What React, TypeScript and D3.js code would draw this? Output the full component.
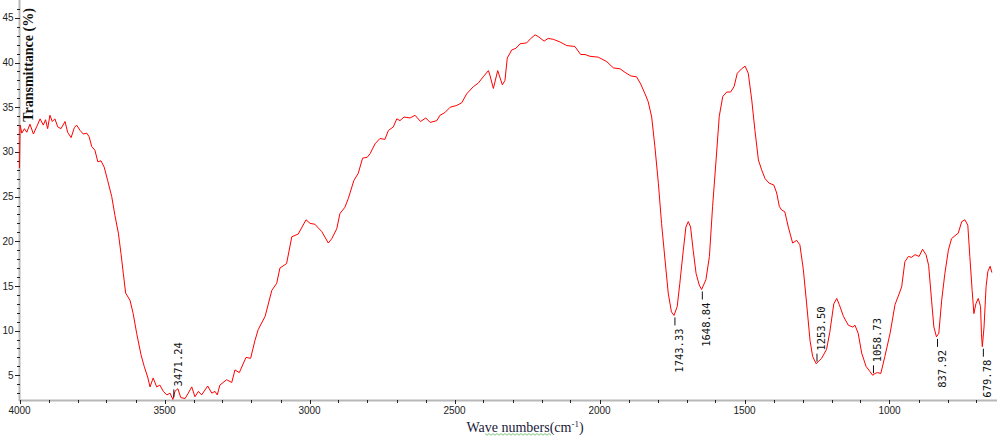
import React from 'react';
import * as d3 from 'd3';

const wavenumbers = [
  4000, 3998, 3992, 3983, 3975, 3964, 3952, 3941, 3929, 3918, 3910, 3903, 3895, 3887, 3878, 3868, 3857, 3843, 3834, 3822,
  3811, 3803, 3791, 3780, 3768, 3760, 3751, 3740, 3730, 3719, 3708, 3696, 3682, 3671, 3659, 3650, 3642, 3634, 3619, 3608,
  3596, 3581, 3570, 3558, 3550, 3539, 3527, 3516, 3504, 3492, 3481, 3471, 3464, 3454, 3444, 3429, 3418, 3406, 3395, 3383,
  3372, 3351, 3337, 3326, 3318, 3309, 3286, 3268, 3257, 3242, 3219, 3203, 3188, 3177, 3153, 3130, 3113, 3102, 3079, 3061,
  3039, 3012, 2998, 2981, 2970, 2958, 2935, 2923, 2906, 2895, 2878, 2866, 2847, 2832, 2817, 2801, 2791, 2774, 2757, 2740,
  2728, 2711, 2699, 2688, 2674, 2653, 2636, 2617, 2599, 2584, 2561, 2550, 2533, 2515, 2492, 2475, 2458, 2435, 2418, 2401,
  2383, 2378, 2366, 2351, 2335, 2326, 2318, 2303, 2288, 2274, 2251, 2237, 2222, 2211, 2191, 2177, 2159, 2136, 2113, 2085,
  2065, 2050, 2033, 2004, 1975, 1952, 1929, 1912, 1892, 1872, 1858, 1843, 1832, 1820, 1809, 1797, 1786, 1774, 1763, 1752,
  1743, 1732, 1723, 1711, 1702, 1694, 1686, 1677, 1667, 1656, 1648, 1633, 1621, 1610, 1598, 1587, 1575, 1561, 1548, 1536,
  1525, 1510, 1498, 1487, 1475, 1464, 1452, 1441, 1429, 1415, 1399, 1389, 1380, 1372, 1361, 1349, 1334, 1320, 1309, 1297,
  1286, 1274, 1265, 1253, 1234, 1217, 1206, 1192, 1182, 1173, 1159, 1142, 1127, 1119, 1108, 1096, 1081, 1067, 1058, 1050,
  1042, 1030, 1016, 998, 981, 967, 958, 947, 935, 924, 912, 898, 886, 874, 865, 855, 847, 838, 830, 820,
  809, 797, 786, 771, 763, 751, 740, 730, 723, 715, 709, 702, 694, 686, 683, 680, 674, 667, 661, 653,
  647,
];

const transmittance = [
  28.2, 33.0, 32.1, 32.6, 32.2, 33.1, 32.0, 32.8, 33.7, 33.0, 33.6, 32.6, 34.1, 33.4, 33.7, 32.8, 32.6, 33.4, 32.2, 31.6,
  32.7, 33.0, 32.4, 32.0, 32.1, 31.7, 30.6, 30.2, 28.9, 29.0, 28.3, 26.8, 25.0, 22.9, 20.9, 18.6, 16.4, 14.2, 13.4, 11.9,
  9.7, 7.3, 6.0, 4.8, 3.7, 4.7, 3.7, 3.9, 3.2, 2.8, 3.0, 2.3, 3.2, 3.5, 2.5, 2.4, 3.0, 3.7, 2.6, 3.2,
  2.8, 3.8, 3.0, 3.2, 2.8, 3.9, 4.5, 4.2, 5.6, 5.3, 7.0, 6.9, 8.9, 10.1, 11.6, 14.5, 15.3, 17.0, 17.5, 20.5,
  20.8, 22.4, 22.0, 21.9, 21.5, 21.1, 19.8, 20.3, 21.4, 23.1, 23.8, 24.8, 26.8, 27.6, 29.3, 29.4, 29.8, 30.9, 31.5, 31.4,
  32.4, 32.8, 33.7, 33.5, 33.9, 33.8, 34.1, 33.4, 33.8, 33.3, 33.5, 34.1, 34.4, 35.0, 35.2, 35.5, 36.5, 37.3, 37.7, 38.4,
  39.1, 38.6, 37.1, 39.1, 37.5, 38.0, 40.5, 41.4, 41.6, 42.1, 42.2, 42.7, 43.1, 42.9, 42.4, 42.7, 42.6, 42.3, 41.9, 41.8,
  40.9, 40.9, 40.7, 40.6, 40.1, 39.4, 39.3, 38.9, 38.5, 38.4, 37.6, 36.5, 35.6, 33.9, 30.6, 26.5, 22.0, 17.9, 14.2, 12.1,
  11.7, 12.7, 15.3, 19.0, 21.6, 22.2, 21.6, 19.0, 16.4, 15.1, 14.6, 15.7, 18.3, 23.9, 29.1, 34.0, 36.2, 36.7, 36.7, 37.3,
  38.8, 39.3, 39.6, 38.8, 35.8, 32.4, 29.1, 28.0, 27.0, 26.5, 26.3, 25.4, 23.9, 23.5, 23.3, 21.6, 19.8, 20.1, 19.6, 16.8,
  13.1, 8.9, 7.1, 6.3, 6.9, 7.9, 9.8, 13.0, 13.6, 12.9, 11.6, 10.6, 10.4, 10.6, 9.7, 7.5, 6.0, 5.4, 5.0, 5.2,
  5.3, 5.2, 7.1, 9.7, 12.9, 14.1, 14.9, 17.7, 18.3, 18.2, 18.5, 18.3, 19.1, 18.5, 17.3, 13.4, 10.4, 9.3, 9.7, 13.4,
  16.4, 19.0, 20.3, 20.7, 20.9, 22.2, 22.4, 21.8, 18.3, 14.5, 11.9, 13.0, 13.6, 12.7, 9.7, 8.2, 10.4, 14.9, 16.6, 17.2,
  16.5,
];

const xMajorTicks = [4000, 3500, 3000, 2500, 2000, 1500, 1000];
const xMinorTicks = [3900, 3800, 3700, 3600, 3400, 3300, 3200, 3100, 2900, 2800, 2700, 2600, 2400, 2300, 2200, 2100, 1900, 1800, 1700, 1600, 1400, 1300, 1200, 1100, 900, 800, 700];
const yMajorTicks = [5, 10, 15, 20, 25, 30, 35, 40, 45];
const yMinorTicks = [3, 4, 6, 7, 8, 9, 11, 12, 13, 14, 16, 17, 18, 19, 21, 22, 23, 24, 26, 27, 28, 29, 31, 32, 33, 34, 36, 37, 38, 39, 41, 42, 43, 44, 46];

const peakWavenumbers = [3471.24, 1743.33, 1648.84, 1253.5, 1058.73, 837.92, 679.78];
const peakLabels = ['3471.24', '1743.33', '1648.84', '1253.50', '1058.73', '837.92', '679.78'];
const peakPlacement = ['above', 'below', 'below', 'above', 'above', 'below', 'below'];

const xTitle = 'Wave numbers';
const yTitle = 'Transmittance (%)';

export default function App() {
  const W = 1000;
  const H = 446;
  const x = d3.scaleLinear().domain([4000, 630]).range([19.5, 996.8]);
  const y = d3.scaleLinear().domain([2.2, 47]).range([400.3, 0]);

  const pts = wavenumbers.map((w, i) => [w, transmittance[i]] as [number, number]);
  const line = d3
    .line<[number, number]>()
    .x((d) => x(d[0]))
    .y((d) => y(d[1]));

  const nearestT = (w: number) => {
    let best = 0;
    let bd = Infinity;
    wavenumbers.forEach((v, i) => {
      const dd = Math.abs(v - w);
      if (dd < bd) {
        bd = dd;
        best = i;
      }
    });
    return transmittance[best];
  };

  const axisGray = '#b8b8b8';
  const tickFont = 'Liberation Sans, Arial, sans-serif';

  // spell-check wavy underline under "numbers"
  let wave = '';
  for (let i = 0, px = 485; px <= 552; px += 2, i++) {
    wave += (i === 0 ? 'M' : 'L') + px + ',' + (i % 2 === 0 ? 433.6 : 435.2);
  }

  return (
    <svg
      width={W}
      height={H}
      style={{ position: 'absolute', left: 0, top: 0, background: '#fff' }}
    >
      <rect x={0} y={0} width={W} height={H} fill="#fff" />
      <line x1={19.5} x2={19.5} y1={0} y2={401} stroke={axisGray} strokeWidth={2} />
      <line x1={19} x2={997} y1={400.5} y2={400.5} stroke={axisGray} strokeWidth={2} />

      {yMinorTicks.map((t) => (
        <line key={'ym' + t} x1={17} x2={20} y1={Math.round(y(t)) + 0.5} y2={Math.round(y(t)) + 0.5} stroke="#222" strokeWidth={1} />
      ))}
      {yMajorTicks.map((t) => (
        <g key={'yM' + t}>
          <line x1={15} x2={20} y1={Math.round(y(t)) + 0.5} y2={Math.round(y(t)) + 0.5} stroke="#222" strokeWidth={1} />
          <text x={13.5} y={y(t)} dy="0.36em" textAnchor="end" fontSize={10} fontFamily={tickFont} fill="#222">
            {t}
          </text>
        </g>
      ))}

      {xMinorTicks.map((t) => (
        <line key={'xm' + t} x1={Math.round(x(t)) + 0.5} x2={Math.round(x(t)) + 0.5} y1={400} y2={403} stroke="#222" strokeWidth={1} />
      ))}
      {xMajorTicks.map((t) => (
        <g key={'xM' + t}>
          <line x1={Math.round(x(t)) + 0.5} x2={Math.round(x(t)) + 0.5} y1={400} y2={404} stroke="#222" strokeWidth={1} />
          <text x={x(t)} y={414} textAnchor="middle" fontSize={10} fontFamily={tickFont} fill="#222">
            {t}
          </text>
        </g>
      ))}

      <path d={line(pts) || ''} fill="none" stroke="#ff0000" strokeWidth={1} strokeLinejoin="round" />

      {peakWavenumbers.map((w, i) => {
        const px = x(w);
        const py = y(nearestT(w));
        const below = peakPlacement[i] === 'below';
        const d1 = below ? py + 2 : py - 2;
        const d2 = below ? py + 10 : py - 10;
        const ty = below ? py + 13 : py - 13;
        return (
          <g key={'pk' + i}>
            <line x1={px + 1} x2={px + 1} y1={d1} y2={d2} stroke="#111" strokeWidth={1} />
            <text
              transform={`translate(${px + 9},${ty}) rotate(-90)`}
              textAnchor={below ? 'end' : 'start'}
              fontSize={10.5}
              fontFamily="DejaVu Sans Mono, Liberation Mono, monospace"
              fill="#111"
            >
              {peakLabels[i]}
            </text>
          </g>
        );
      })}

      <text
        transform="translate(33,65) rotate(-90)"
        textAnchor="middle"
        fontSize={14}
        fontWeight="bold"
        fontFamily="Liberation Serif, Times New Roman, serif"
        fill="#111"
      >
        {yTitle}
      </text>

      <text x={525} y={431.5} textAnchor="middle" fontSize={14} fontFamily="Liberation Serif, Times New Roman, serif" fill="#1a1a3a">
        {xTitle}(cm
        <tspan fontSize={9} dy={-5}>-1</tspan>
        <tspan dy={5}>)</tspan>
      </text>
      <path d={wave} fill="none" stroke="#5cb85c" strokeWidth={0.8} />
    </svg>
  );
}
